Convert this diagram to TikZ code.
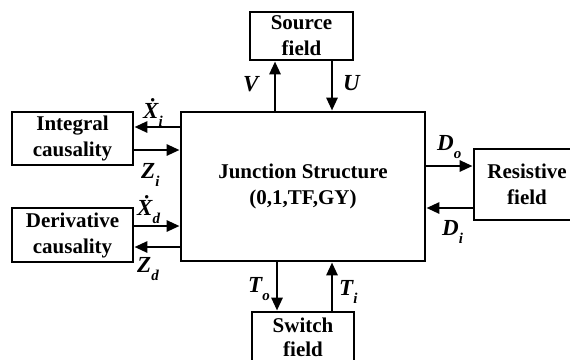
\documentclass[tikz,border=0pt]{standalone}
\usepackage{fontspec}
\setmainfont{Liberation Serif}
\usetikzlibrary{arrows.meta}
\newcommand{\lsub}[1]{\raisebox{-0.38em}{\fontsize{15}{15}\selectfont #1}}
\begin{document}
\begin{tikzpicture}[x=1pt,y=-1pt,
  box/.style={draw,line width=2.8pt,inner sep=0pt,align=center,font=\fontsize{21}{26}\selectfont\bfseries},
  arr/.style={line width=2.8pt,-{Triangle[length=13pt,width=11pt]}},
  lbl/.style={font=\fontsize{23}{23}\selectfont\bfseries\itshape,inner sep=0pt,anchor=base west}]
\useasboundingbox (0,0) rectangle (570,359);
\fill[white] (0,0) rectangle (570,359);
\clip (0,0) rectangle (570,359);
% boxes
\node[box,minimum width=244pt,minimum height=149pt] (main) at (303,186.5) {Junction Structure\\(0,1,TF,GY)};
\node[box,minimum width=103pt,minimum height=48pt] (src) at (301.5,36) {Source\\field};
\node[box,minimum width=121pt,minimum height=53pt] (int) at (72.5,138.5) {Integral\\causality};
\node[box,minimum width=121pt,minimum height=54pt] (der) at (72.5,235) {Derivative\\causality};
\node[box,minimum width=106pt,minimum height=71pt] (res) at (527,184.5) {Resistive\\field};
\node[box,minimum width=102pt,minimum height=51pt,font=\fontsize{21}{24}\selectfont\bfseries] (sw) at (303,337.5) {Switch\\field};
% anchor points on the junction box
\coordinate (pV) at ([xshift=-28pt]main.north);
\coordinate (pU) at ([xshift=29pt]main.north);
\coordinate (pTo) at ([xshift=-26pt]main.south);
\coordinate (pTi) at ([xshift=29pt]main.south);
\coordinate (pXi) at ([yshift=59.5pt]main.west);
\coordinate (pZi) at ([yshift=36.5pt]main.west);
\coordinate (pXd) at ([yshift=-39.5pt]main.west);
\coordinate (pZd) at ([yshift=-60.5pt]main.west);
\coordinate (pDo) at ([yshift=20.5pt]main.east);
\coordinate (pDi) at ([yshift=-21.5pt]main.east);
% connectors
\draw[arr] (pV) -- (pV |- src.south);
\draw[arr] (pU |- src.south) -- (pU);
\draw[arr] (pTo) -- (pTo |- sw.north);
\draw[arr] (pTi |- sw.north) -- (pTi);
\draw[arr] (pXi) -- (pXi -| int.east);
\draw[arr] (pZi -| int.east) -- (pZi);
\draw[arr] (pXd -| der.east) -- (pXd);
\draw[arr] (pZd) -- (pZd -| der.east);
\draw[arr] (pDo) -- (pDo -| res.west);
\draw[arr] (pDi -| res.west) -- (pDi);
% labels
\node[lbl] (lV) at (243,91) {V};
\node[lbl] (lU) at (343,90) {U};
\node[lbl] (lXi) at (143,118) {\.{X}\lsub{i}};
\node[lbl] (lZi) at (141,178) {Z\lsub{i}};
\node[lbl] (lXd) at (137,215) {\.{X}\lsub{d}};
\node[lbl] (lZd) at (137,272) {Z\lsub{d}};
\node[lbl] (lTo) at (248,292) {T\lsub{o}};
\node[lbl] (lTi) at (339,295) {T\lsub{i}};
\node[lbl] (lDo) at (437,150) {D\lsub{o}};
\node[lbl] (lDi) at (442,235) {D\lsub{i}};
\end{tikzpicture}
\end{document}
